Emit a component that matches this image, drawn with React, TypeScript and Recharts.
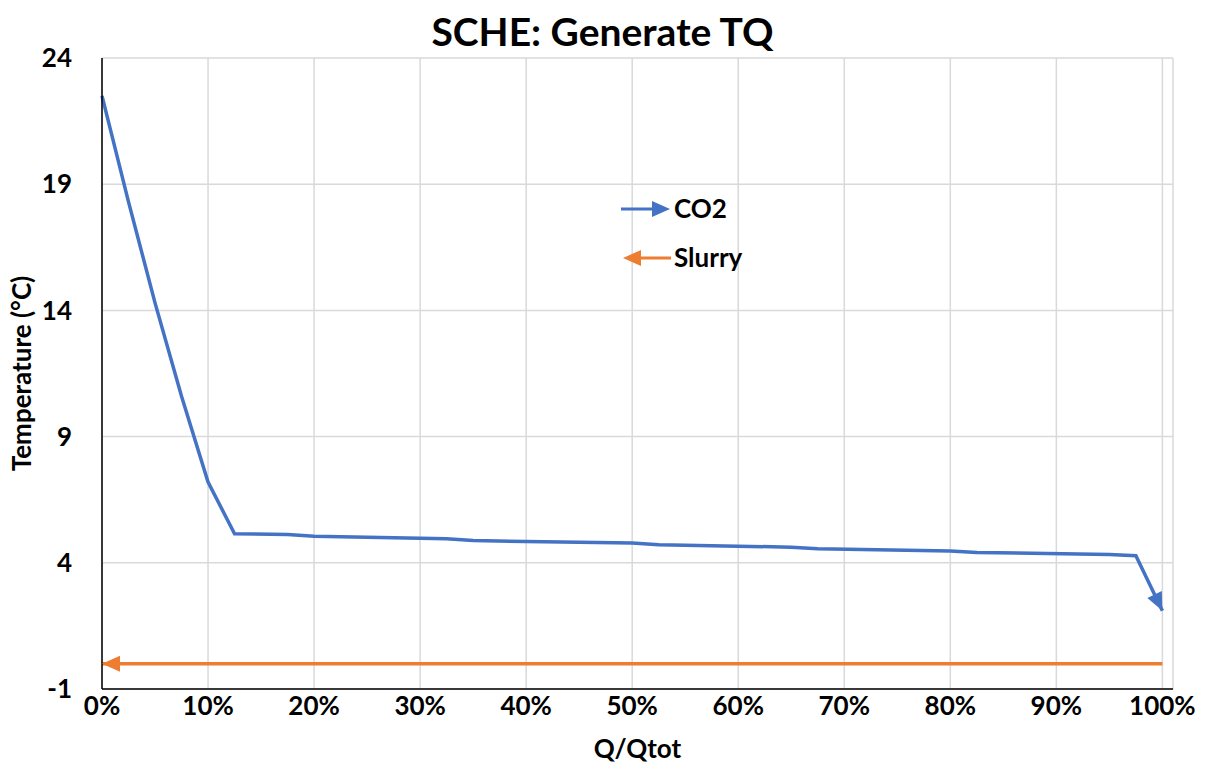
import React from "react";
import {
  LineChart,
  Line,
  XAxis,
  YAxis,
  CartesianGrid,
} from "recharts";

// Q/Qtot positions (fraction of total duty)
const co2Q = [0, 0.025, 0.05, 0.075, 0.1, 0.125, 0.175, 0.2, 0.325, 0.35, 0.5, 0.525, 0.65, 0.675, 0.8, 0.825, 0.95, 0.975, 1];
// CO2 temperature (°C)
const co2T = [22.5, 18.3, 14.3, 10.6, 7.2, 5.15, 5.12, 5.05, 4.95, 4.88, 4.78, 4.72, 4.62, 4.56, 4.47, 4.41, 4.33, 4.28, 2.1];

const slurryQ = [0, 1];
const slurryT = [0, 0];

const xTicks = [0, 0.1, 0.2, 0.3, 0.4, 0.5, 0.6, 0.7, 0.8, 0.9, 1];
const yTicks = [-1, 4, 9, 14, 19, 24];

const co2Data = co2Q.map((q, i) => ({ q, t: co2T[i] }));
const slurryData = slurryQ.map((q, i) => ({ q, t: slurryT[i] }));

const BLUE = "#4472C4";
const ORANGE = "#ED7D31";
const FONT = "Lato, 'Open Sans', sans-serif";

function arrowHead(tipX: number, tipY: number, fromX: number, fromY: number, color: string, key: string) {
  const ang = Math.atan2(tipY - fromY, tipX - fromX);
  const L = 18;
  const W = 8;
  const bx = tipX - L * Math.cos(ang);
  const by = tipY - L * Math.sin(ang);
  const px = -Math.sin(ang) * W;
  const py = Math.cos(ang) * W;
  return (
    <polygon
      key={key}
      points={`${tipX},${tipY} ${bx + px},${by + py} ${bx - px},${by - py}`}
      fill={color}
    />
  );
}

// draws an arrow at the end (or start) of a line
const arrowDot = (which: "start" | "end", color: string) => (props: any) => {
  const { index, points, cx, cy } = props;
  const k = `${which}-${index}`;
  if (!points || points.length < 2) return <g key={k} />;
  const n = points.length;
  if (which === "end" && index === n - 1) {
    const p = points[n - 2];
    return arrowHead(cx, cy, p.x, p.y, color, k);
  }
  if (which === "start" && index === 0) {
    const p = points[1];
    return arrowHead(cx, cy, p.x, p.y, color, k);
  }
  return <g key={k} />;
};

// legend drawn as an overlay so it doesn't eat into the plot area
function ArrowLegend() {
  const txt = { fontFamily: FONT, fontWeight: "bold" as const, fontSize: 26, fill: "#000" };
  return (
    <svg
      width={160}
      height={90}
      style={{ position: "absolute", left: 619, top: 192, overflow: "visible" }}
    >
      <line x1={2} y1={17} x2={40} y2={17} stroke={BLUE} strokeWidth={3} />
      {arrowHead(51, 17, 0, 17, BLUE, "l1")}
      <text x={55} y={26} {...txt}>CO2</text>
      <line x1={14} y1={66} x2={52} y2={66} stroke={ORANGE} strokeWidth={3} />
      {arrowHead(4, 66, 52, 66, ORANGE, "l2")}
      <text x={55} y={75} {...txt}>Slurry</text>
    </svg>
  );
}

export default function App() {
  const tickStyle = { fontFamily: FONT, fontWeight: "bold", fontSize: 26, fill: "#000" };
  const titleStyle = { fontFamily: FONT, fontWeight: "bold", fontSize: 26, fill: "#000" };
  return (
    <div style={{ position: "absolute", left: 0, top: 0, width: 1205, height: 764, background: "#fff" }}>
      <div
        style={{
          position: "absolute",
          top: 8,
          width: 1205,
          textAlign: "center",
          fontFamily: FONT,
          fontWeight: "bold",
          fontSize: 39,
          lineHeight: "46px",
          color: "#000",
        }}
      >
        SCHE: Generate TQ
      </div>
      <LineChart width={1205} height={764} margin={{ top: 58, right: 32, left: 0, bottom: 0 }}>
        <CartesianGrid stroke="#d9d9d9" strokeWidth={1.5} />
        <XAxis
          dataKey="q"
          type="number"
          domain={[0, 1.01]}
          ticks={xTicks}
          allowDuplicatedCategory={false}
          tickFormatter={(v: number) => `${Math.round(v * 100)}%`}
          tick={tickStyle}
          tickLine={false}
          axisLine={{ stroke: "#000", strokeWidth: 1.5 }}
          height={75}
          tickMargin={2}
          label={{ value: "Q/Qtot", position: "insideBottom", offset: 6, style: titleStyle }}
        />
        <XAxis xAxisId="top" orientation="top" type="number" domain={[0, 1.01]} tick={false} tickLine={false} height={0} axisLine={{ stroke: "#000", strokeWidth: 1.5 }} />
        <YAxis
          dataKey="t"
          type="number"
          domain={[-1, 24]}
          ticks={yTicks}
          tick={tickStyle}
          tickLine={false}
          axisLine={{ stroke: "#000", strokeWidth: 1.5 }}
          width={102}
          tickMargin={24}
          label={{
            value: "Temperature (°C)",
            angle: -90,
            position: "insideLeft",
            offset: 22,
            style: { ...titleStyle, textAnchor: "middle" },
          }}
        />
        <YAxis yAxisId="right" orientation="right" type="number" domain={[-1, 24]} tick={false} tickLine={false} width={0} axisLine={{ stroke: "#000", strokeWidth: 1.5 }} />
        <Line
          data={slurryData}
          dataKey="t"
          name="Slurry"
          stroke={ORANGE}
          strokeWidth={3.5}
          dot={arrowDot("start", ORANGE)}
          activeDot={false}
          isAnimationActive={false}
        />
        <Line
          data={co2Data}
          dataKey="t"
          name="CO2"
          stroke={BLUE}
          strokeWidth={3.5}
          dot={arrowDot("end", BLUE)}
          activeDot={false}
          isAnimationActive={false}
        />
      </LineChart>
      <ArrowLegend />
    </div>
  );
}
